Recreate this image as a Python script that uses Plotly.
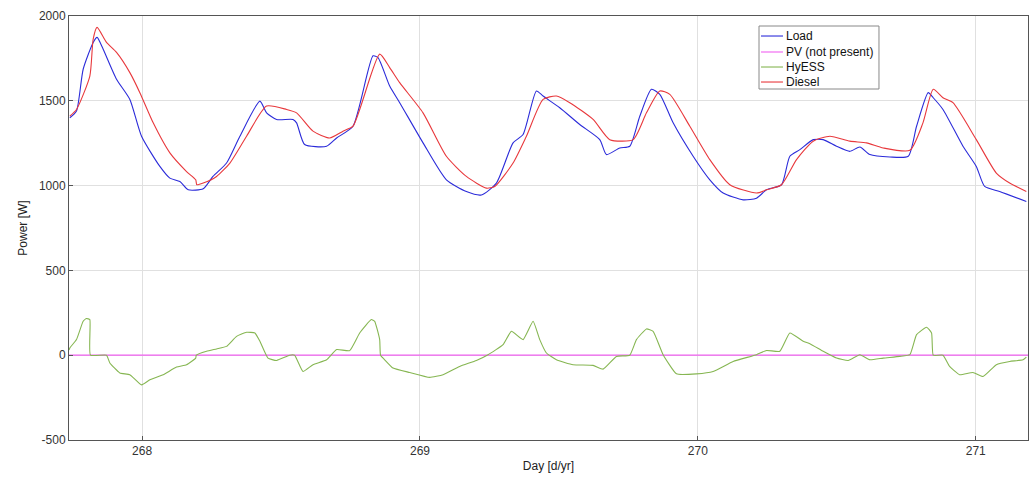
import plotly.graph_objects as go

# ---- data ----
load_day = [267.740, 267.764, 267.788, 267.824, 267.838, 267.860, 267.908, 267.956, 267.998,
            268.064, 268.100, 268.136, 268.166, 268.220, 268.255, 268.304, 268.352, 268.424,
            268.448, 268.484, 268.543, 268.556, 268.585, 268.664, 268.700, 268.759, 268.831,
            268.849, 268.891, 268.927, 269.011, 269.095, 269.167, 269.221, 269.275, 269.335,
            269.371, 269.419, 269.443, 269.503, 269.575, 269.647, 269.671, 269.719, 269.755,
            269.791, 269.833, 269.863, 269.911, 269.983, 270.043, 270.091, 270.163, 270.211,
            270.247, 270.301, 270.331, 270.367, 270.415, 270.451, 270.499, 270.547, 270.583,
            270.619, 270.691, 270.757, 270.787, 270.829, 270.847, 270.882, 270.954, 271.002,
            271.032, 271.086, 271.182]
load_w = [1400, 1440, 1686, 1844, 1874, 1804, 1627, 1508, 1291,
          1113, 1044, 1024, 975, 981, 1054, 1133, 1291, 1498,
          1429, 1390, 1390, 1370, 1242, 1232, 1281, 1350, 1765,
          1755, 1587, 1489, 1252, 1034, 965, 945, 1015, 1252,
          1301, 1558, 1528, 1459, 1360, 1271, 1183, 1222, 1232,
          1409, 1568, 1538, 1370, 1173, 1034, 956, 916, 926,
          975, 1005, 1173, 1212, 1271, 1271, 1232, 1202, 1228,
          1183, 1169, 1173, 1350, 1548, 1518, 1449, 1232, 1113,
          995, 965, 906]

diesel_day = [267.740, 267.764, 267.812, 267.824, 267.838, 267.872, 267.908, 267.956, 267.992,
              268.040, 268.100, 268.160, 268.193, 268.197, 268.220, 268.268, 268.316, 268.376,
              268.448, 268.520, 268.556, 268.615, 268.675, 268.723, 268.759, 268.855, 268.891,
              268.927, 269.011, 269.095, 269.167, 269.239, 269.269, 269.335, 269.383, 269.443,
              269.491, 269.539, 269.623, 269.683, 269.767, 269.815, 269.863, 269.899, 269.971,
              270.043, 270.115, 270.211, 270.247, 270.301, 270.355, 270.415, 270.475, 270.547,
              270.607, 270.667, 270.763, 270.810, 270.847, 270.882, 270.918, 271.002, 271.074,
              271.122, 271.182]
diesel_w = [1410, 1449, 1646, 1864, 1933, 1844, 1785, 1666, 1548,
            1370, 1193, 1083, 1034, 1005, 1015, 1054, 1133, 1291,
            1469, 1449, 1429, 1321, 1281, 1321, 1350, 1775, 1696,
            1607, 1429, 1173, 1054, 985, 995, 1133, 1291, 1508,
            1528, 1489, 1390, 1271, 1271, 1429, 1558, 1538, 1350,
            1153, 1005, 956, 975, 1005, 1153, 1262, 1291, 1262,
            1252, 1222, 1208, 1370, 1568, 1518, 1489, 1271, 1074,
            1015, 965]

hyess_day = [267.737, 267.740, 267.764, 267.788, 267.800, 267.812, 267.814, 267.872, 267.884,
             267.920, 267.956, 267.998, 268.028, 268.076, 268.124, 268.160, 268.193, 268.195,
             268.232, 268.268, 268.304, 268.340, 268.376, 268.406, 268.424, 268.453, 268.484,
             268.531, 268.549, 268.579, 268.615, 268.664, 268.700, 268.747, 268.783, 268.825,
             268.837, 268.855, 268.858, 268.873, 268.903, 268.963, 269.035, 269.083, 269.143,
             269.203, 269.245, 269.299, 269.329, 269.371, 269.407, 269.431, 269.455, 269.491,
             269.551, 269.623, 269.659, 269.707, 269.755, 269.779, 269.815, 269.839, 269.875,
             269.923, 269.995, 270.055, 270.127, 270.211, 270.247, 270.295, 270.331, 270.379,
             270.403, 270.451, 270.499, 270.541, 270.583, 270.619, 270.667, 270.727, 270.763,
             270.787, 270.823, 270.841, 270.847, 270.882, 270.906, 270.942, 270.990, 271.026,
             271.074, 271.122, 271.170, 271.182]
hyess_w = [30, 43, 92, 200, 216, 210, 0, 0, -46,
           -105, -115, -175, -145, -115, -70, -56, -17, 0,
           23, 37, 52, 111, 135, 131, 82, -17, -31,
           0, 0, -96, -56, -27, 33, 27, 131, 210,
           200, 92, 0, -27, -76, -102, -131, -115, -66,
           -31, 3, 62, 141, 92, 200, 92, 13, -27,
           -56, -60, -82, -7, 0, 92, 155, 141, 3,
           -110, -110, -96, -37, 3, 28, 23, 131, 82,
           68, 23, -17, -31, 3, -27, -17, -7, 3,
           121, 165, 131, 0, 0, -66, -115, -102, -126,
           -56, -37, -27, -11]

pv_day = [267.737, 271.188]
pv_w = [0, 0]

x_ticks = [268, 269, 270, 271]
y_ticks = [-500, 0, 500, 1000, 1500, 2000]

series_names = ["Load", "PV (not present)", "HyESS", "Diesel"]
series_colors = ["#2b2bd9", "#f060f0", "#86b652", "#e8383c"]

FONT = "Liberation Sans, Arial"

fig = go.Figure()
fig.add_trace(go.Scatter(x=load_day, y=load_w, mode="lines", name=series_names[0],
                         line=dict(color=series_colors[0], width=1.1, shape="spline", smoothing=0.6)))
fig.add_trace(go.Scatter(x=pv_day, y=pv_w, mode="lines", name=series_names[1],
                         line=dict(color=series_colors[1], width=1.3)))
fig.add_trace(go.Scatter(x=hyess_day, y=hyess_w, mode="lines", name=series_names[2],
                         line=dict(color=series_colors[2], width=1.1, shape="spline", smoothing=0.4)))
fig.add_trace(go.Scatter(x=diesel_day, y=diesel_w, mode="lines", name=series_names[3],
                         line=dict(color=series_colors[3], width=1.1, shape="spline", smoothing=0.6)))

axis_common = dict(showgrid=True, gridcolor="#e0e0e0", gridwidth=1,
                   showline=True, linecolor="#555555", linewidth=1, mirror=True,
                   ticks="inside", ticklen=4, tickcolor="#555555",
                   zeroline=False, tickfont=dict(family=FONT, size=12, color="#333333"))

fig.update_xaxes(range=[267.737, 271.188], tickvals=x_ticks,
                 ticktext=[str(v) for v in x_ticks],
                 title=dict(text="Day [d/yr]", font=dict(family=FONT, size=12, color="#222222"),
                            standoff=4),
                 **axis_common)
fig.update_yaxes(range=[-500, 2000], tickvals=y_ticks,
                 ticktext=[str(v) for v in y_ticks],
                 title=dict(text="Power [W]", font=dict(family=FONT, size=12, color="#222222"),
                            standoff=8),
                 **axis_common)

# compact legend box (drawn in paper coordinates, like the reference's tight legend)
shapes = [dict(type="rect", xref="paper", yref="paper", x0=0.7195, x1=0.8446, y0=0.8278, y1=0.9764,
               line=dict(color="#888888", width=1), fillcolor="white", layer="above")]
annotations = []
row_y = [0.9528, 0.9151, 0.8797, 0.8443]
for name, color, yy in zip(series_names, series_colors, row_y):
    shapes.append(dict(type="line", xref="paper", yref="paper", x0=0.7216, x1=0.7445, y0=yy, y1=yy,
                       line=dict(color=color, width=1.1), layer="above"))
    annotations.append(dict(xref="paper", yref="paper", x=0.7452, y=yy, xanchor="left", yanchor="middle",
                            text=name, showarrow=False,
                            font=dict(family=FONT, size=12, color="#111111")))

fig.update_layout(
    width=1034, height=486,
    margin=dict(l=69, r=6, t=16, b=46),
    paper_bgcolor="white", plot_bgcolor="white",
    showlegend=False,
    shapes=shapes, annotations=annotations,
)

fig.write_html("out.html")
